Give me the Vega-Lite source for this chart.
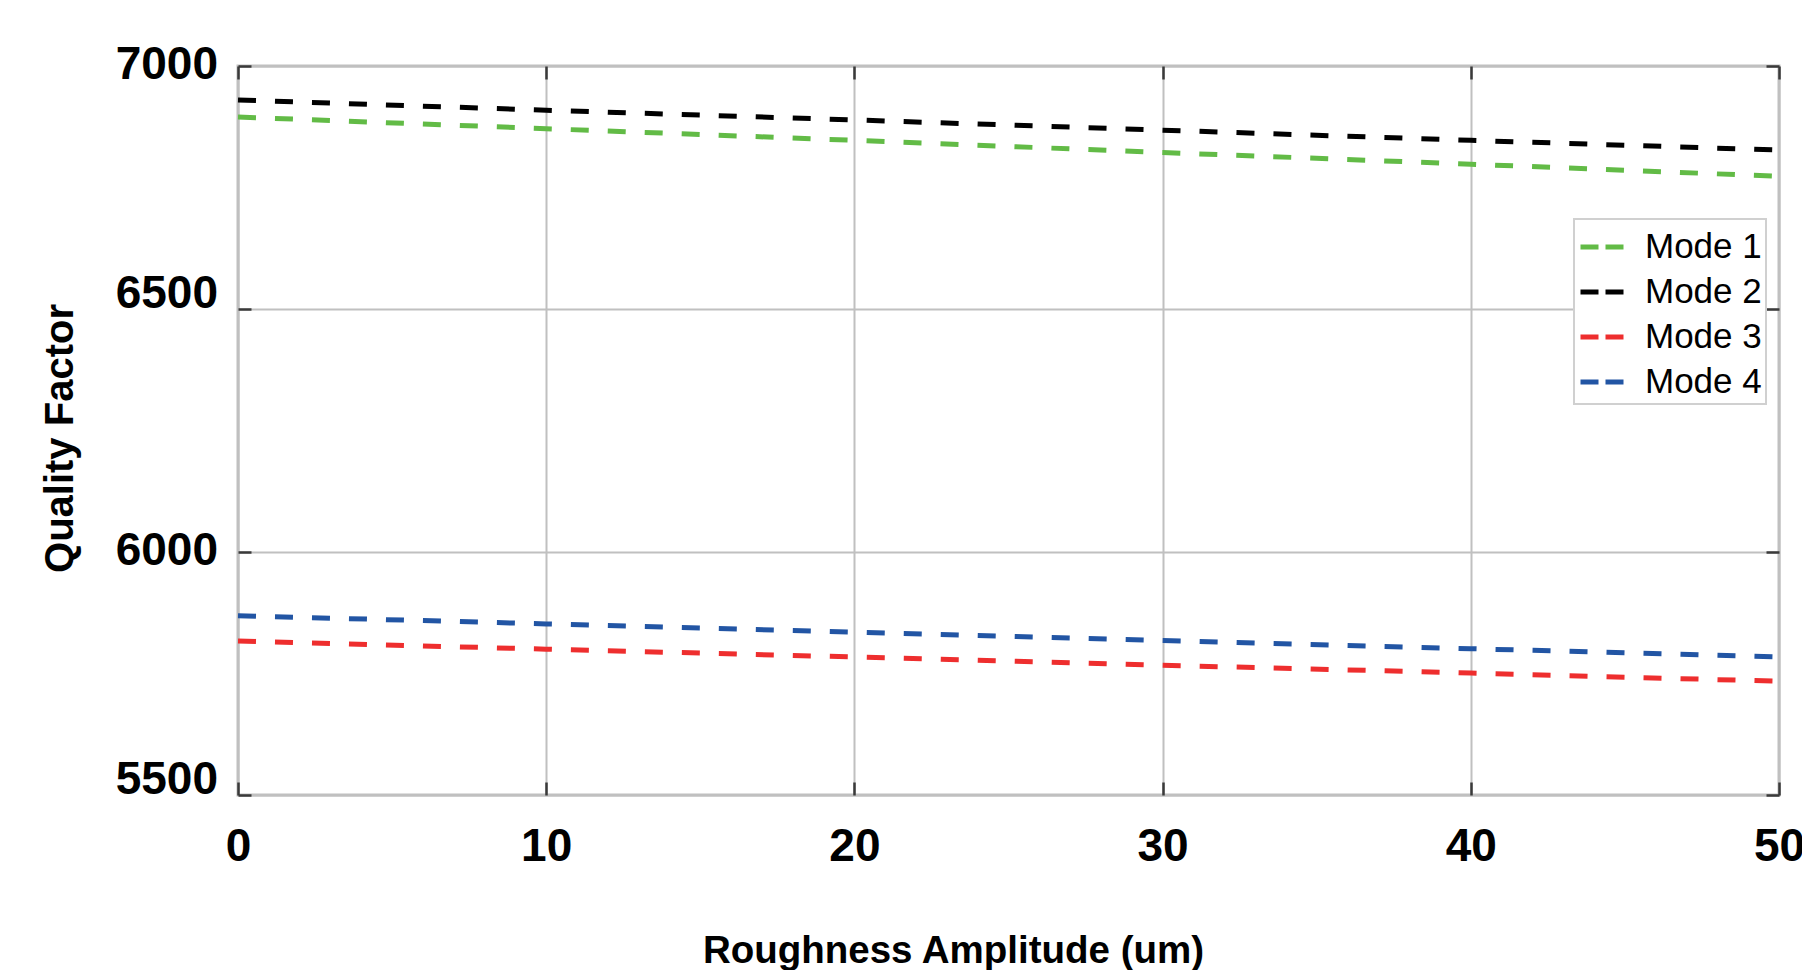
{
  "$schema": "https://vega.github.io/schema/vega-lite/v6.json",
  "width": 1541,
  "height": 729,
  "autosize": {"type": "none"},
  "padding": {"left": 238, "top": 66, "right": 23, "bottom": 175},
  "background": "white",
  "config": {
    "view": {"stroke": "#c0c0c0", "strokeWidth": 3},
    "axis": {
      "domain": false,
      "grid": true,
      "gridColor": "#c0c0c0",
      "gridWidth": 2,
      "tickColor": "#3a3a3a",
      "tickSize": -13,
      "tickWidth": 2.5,
      "labelFont": "Liberation Sans",
      "labelFontWeight": "bold",
      "labelFontSize": 46,
      "labelColor": "#000000",
      "labelOverlap": false,
      "labelFlush": false,
      "labelBound": false,
      "format": "d"
    },
    "legend": {"strokeWidth": 2}
  },
  "data": {
    "values": [
      {"amplitude": 0, "mode": "Mode 1", "q": 6895},
      {"amplitude": 10, "mode": "Mode 1", "q": 6871},
      {"amplitude": 20, "mode": "Mode 1", "q": 6847},
      {"amplitude": 30, "mode": "Mode 1", "q": 6822},
      {"amplitude": 40, "mode": "Mode 1", "q": 6798},
      {"amplitude": 50, "mode": "Mode 1", "q": 6773},
      {"amplitude": 0, "mode": "Mode 2", "q": 6930},
      {"amplitude": 10, "mode": "Mode 2", "q": 6909},
      {"amplitude": 20, "mode": "Mode 2", "q": 6889},
      {"amplitude": 30, "mode": "Mode 2", "q": 6868},
      {"amplitude": 40, "mode": "Mode 2", "q": 6847},
      {"amplitude": 50, "mode": "Mode 2", "q": 6827},
      {"amplitude": 0, "mode": "Mode 3", "q": 5817},
      {"amplitude": 10, "mode": "Mode 3", "q": 5800},
      {"amplitude": 20, "mode": "Mode 3", "q": 5784},
      {"amplitude": 30, "mode": "Mode 3", "q": 5767},
      {"amplitude": 40, "mode": "Mode 3", "q": 5751},
      {"amplitude": 50, "mode": "Mode 3", "q": 5734},
      {"amplitude": 0, "mode": "Mode 4", "q": 5869},
      {"amplitude": 10, "mode": "Mode 4", "q": 5852},
      {"amplitude": 20, "mode": "Mode 4", "q": 5835},
      {"amplitude": 30, "mode": "Mode 4", "q": 5818},
      {"amplitude": 40, "mode": "Mode 4", "q": 5801},
      {"amplitude": 50, "mode": "Mode 4", "q": 5784}
    ]
  },
  "layer": [
    {
      "mark": {"type": "line", "strokeWidth": 5, "strokeDash": [18, 19]},
      "encoding": {
        "x": {
          "field": "amplitude",
          "type": "quantitative",
          "scale": {"domain": [0, 50], "nice": false, "zero": false},
          "axis": {
            "orient": "bottom",
            "values": [0, 10, 20, 30, 40, 50],
            "labelPadding": 42,
            "title": "Roughness Amplitude (um)",
            "titleFont": "Liberation Sans",
            "titleFontWeight": "bold",
            "titleFontSize": 38.5,
            "titleColor": "#000000",
            "titleX": 715,
            "titleY": 167,
            "titleAlign": "center",
            "titleBaseline": "alphabetic"
          }
        },
        "y": {
          "field": "q",
          "type": "quantitative",
          "scale": {"domain": [5500, 7000], "nice": false, "zero": false},
          "axis": {
            "orient": "left",
            "values": [5500, 6000, 6500, 7000],
            "labelPadding": 33.5,
            "labelOffset": {"condition": {"test": "datum.value === 6500 || datum.value === 5500", "value": -16}, "value": -2},
            "title": "Quality Factor",
            "titleFont": "Liberation Sans",
            "titleFontWeight": "bold",
            "titleFontSize": 40,
            "titleColor": "#000000",
            "titleAngle": -90,
            "titleX": -166,
            "titleY": 372,
            "titleAlign": "center",
            "titleBaseline": "alphabetic"
          }
        },
        "color": {
          "field": "mode",
          "type": "nominal",
          "scale": {
            "domain": ["Mode 1", "Mode 2", "Mode 3", "Mode 4"],
            "range": ["#62bb46", "#000000", "#ee2e2e", "#2255a4"]
          },
          "legend": {
            "orient": "none",
            "legendX": 1336,
            "legendY": 153,
            "title": null,
            "symbolType": "stroke",
            "symbolSize": 1849,
            "symbolStrokeWidth": 5,
            "symbolDash": [18, 7],
            "labelFont": "Liberation Sans",
            "labelFontSize": 35,
            "labelColor": "#000000",
            "labelOffset": 19,
            "padding": 4,
            "rowPadding": 3,
            "strokeColor": "#d0d0d0",
            "fillColor": "#ffffff"
          }
        }
      }
    },
    {
      "mark": {"type": "point", "opacity": 0},
      "encoding": {
        "x": {
          "field": "amplitude",
          "type": "quantitative",
          "axis": {"orient": "top", "values": [0, 10, 20, 30, 40, 50], "labels": false, "grid": false, "title": null}
        },
        "y": {
          "field": "q",
          "type": "quantitative",
          "axis": {"orient": "right", "values": [5500, 6000, 6500, 7000], "labels": false, "grid": false, "title": null}
        }
      }
    }
  ],
  "resolve": {"axis": {"x": "independent", "y": "independent"}}
}
